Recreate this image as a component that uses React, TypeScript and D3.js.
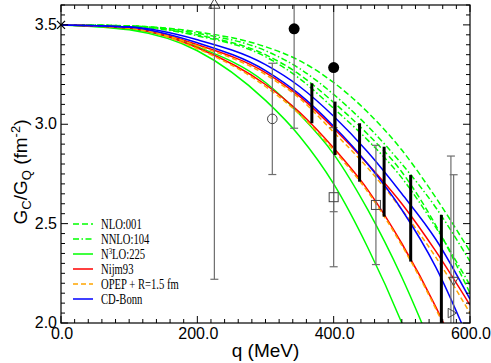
import React from 'react';
import * as d3 from 'd3';

// momentum grid (MeV) on which the theory curves were read
const qGrid = [0, 100, 200, 300, 350, 400, 450, 500, 550, 600];

// theory bands, two edges each
const nloA = [3.5, 3.495, 3.465, 3.39, 3.32, 3.21, 3.06, 2.87, 2.63, 2.36];
const nloB = [3.5, 3.494, 3.45, 3.35, 3.25, 3.11, 2.95, 2.76, 2.49, 2.15];
const nnloA = [3.5, 3.495, 3.458, 3.37, 3.28, 3.15, 2.99, 2.8, 2.58, 2.31];
const nnloB = [3.5, 3.493, 3.445, 3.34, 3.23, 3.08, 2.92, 2.73, 2.48, 2.19];
const n3loA = [3.5, 3.48, 3.39, 3.21, 3.05, 2.85, 2.57, 2.23, 1.83, 1.4];
const n3loB = [3.5, 3.475, 3.37, 3.12, 2.94, 2.7, 2.38, 2.0, 1.55, 1.1];
const nijmA = [3.5, 3.487, 3.4, 3.26, 3.14, 2.98, 2.8, 2.6, 2.36, 2.09];
const nijmB = [3.5, 3.484, 3.385, 3.2, 3.06, 2.88, 2.67, 2.4, 2.08, 1.7];
const opepA = [3.5, 3.486, 3.395, 3.25, 3.13, 2.96, 2.78, 2.57, 2.33, 2.05];
const opepB = [3.5, 3.483, 3.38, 3.19, 3.05, 2.87, 2.66, 2.39, 2.07, 1.69];
const bonnA = [3.5, 3.49, 3.425, 3.3, 3.19, 3.04, 2.86, 2.65, 2.42, 2.12];
const bonnB = [3.5, 3.488, 3.41, 3.27, 3.15, 2.99, 2.8, 2.57, 2.28, 1.9];

// experimental points
const crossQ = [0];
const crossV = [3.5];
const filledQ = [342, 400];
const filledV = [3.48, 3.285];
const filledErr = [0.5, 0.725];
const openCircQ = [310];
const openCircV = [3.027];
const openCircErr = [0.28];
const squareQ = [400, 462];
const squareV = [2.633, 2.594];
const squareErr = [0.35, 0.3];
const triUpQ = [225];
const triUpV = [3.6];
const triUpErr = [1.38];
const triDownQ = [576];
const triDownV = [2.216];
const triDownErr = [0.53];
const triRightQ = [572];
const triRightV = [2.05];
const triRightErr = [0.79];

// black range bars
const barQ = [368, 402, 438, 474, 513, 558];
const barLo = [3.005, 2.845, 2.711, 2.535, 2.309, 1.96];
const barHi = [3.206, 3.114, 3.005, 2.887, 2.745, 2.544];

const xMajor = [0, 200, 400, 600];
const yMajor = [2.0, 2.5, 3.0, 3.5];

const legendNames = ['NLO:001', 'NNLO:104', 'N3LO:225', 'Nijm93', 'OPEP + R=1.5 fm', 'CD-Bonn'];

const W = 491;
const H = 363;
const margin = { top: 5, right: 21, bottom: 40, left: 61 };

const GREEN = '#00ff00';
const styles = [
  { color: GREEN, dash: '6,3' },
  { color: GREEN, dash: '6,2.5,1.5,2.5' },
  { color: GREEN, dash: null },
  { color: '#ff0000', dash: null },
  { color: '#ffa500', dash: '5,3' },
  { color: '#0000ff', dash: null },
];
const bands = [
  [nloA, nloB],
  [nnloA, nnloB],
  [n3loA, n3loB],
  [nijmA, nijmB],
  [opepA, opepB],
  [bonnA, bonnB],
];
// draw order: solid greens first, blue last
const drawOrder = [2, 0, 1, 3, 4, 5];

export default function App() {
  const x = d3.scaleLinear().domain([0, 600]).range([margin.left, W - margin.right]);
  const y = d3.scaleLinear().domain([2.0, 3.6]).range([H - margin.bottom, margin.top]);
  const x0 = x.range()[0], x1 = x.range()[1];
  const yb = y.range()[0], yt = y.range()[1];

  const line = d3.line<number>()
    .x((_, i) => x(qGrid[i]))
    .y(d => y(d))
    .curve(d3.curveMonotoneX);

  const xMinor = d3.range(0, 601, 20);
  const yMinor = d3.range(2.0, 3.601, 0.05);

  const grey = '#6e6e6e';
  const cap = 4;

  const errBar = (q: number, v: number, e: number, key: string) => {
    const top = v + e, bot = v - e;
    return (
      <g key={key} stroke={grey} strokeWidth={1.2}>
        <line x1={x(q)} x2={x(q)} y1={y(Math.min(top, 3.6))} y2={y(Math.max(bot, 2.0))} />
        {top <= 3.6 && <line x1={x(q) - cap} x2={x(q) + cap} y1={y(top)} y2={y(top)} />}
        {bot >= 2.0 && <line x1={x(q) - cap} x2={x(q) + cap} y1={y(bot)} y2={y(bot)} />}
      </g>
    );
  };

  const tri = (cx: number, cy: number, r: number, rot: number) => {
    const pts = [0, 1, 2].map(k => {
      const a = (rot + k * 120 - 90) * Math.PI / 180;
      return `${cx + r * Math.cos(a)},${cy + r * Math.sin(a)}`;
    });
    return pts.join(' ');
  };

  const sans = '"Liberation Sans", Arial, Helvetica, sans-serif';
  const serif = '"Liberation Serif", "Times New Roman", serif';

  return (
    <svg width={W} height={H} style={{ position: 'absolute', left: 0, top: 0, background: '#fff' }}>
      <defs>
        <clipPath id="plot">
          <rect x={x0} y={yt} width={x1 - x0} height={yb - yt} />
        </clipPath>
      </defs>

      <g clipPath="url(#plot)">
        {drawOrder.map(k =>
          bands[k].map((vals, j) => (
            <path key={`c${k}-${j}`} d={line(vals) || ''} fill="none"
              stroke={styles[k].color} strokeWidth={1.5}
              strokeDasharray={styles[k].dash || undefined} />
          ))
        )}

        {triUpQ.map((q, i) => errBar(q, triUpV[i], triUpErr[i], `eu${i}`))}
        {filledQ.map((q, i) => errBar(q, filledV[i], filledErr[i], `ef${i}`))}
        {openCircQ.map((q, i) => errBar(q, openCircV[i], openCircErr[i], `eo${i}`))}
        {squareQ.map((q, i) => errBar(q, squareV[i], squareErr[i], `es${i}`))}
        {triDownQ.map((q, i) => errBar(q, triDownV[i], triDownErr[i], `ed${i}`))}
        {triRightQ.map((q, i) => errBar(q, triRightV[i], triRightErr[i], `er${i}`))}

        {barQ.map((q, i) => (
          <line key={`b${i}`} x1={x(q)} x2={x(q)} y1={y(barHi[i])} y2={y(barLo[i])}
            stroke="#000" strokeWidth={3} />
        ))}
      </g>

      {/* markers */}
      {filledQ.map((q, i) => (
        <circle key={`f${i}`} cx={x(q)} cy={y(filledV[i])} r={5.5} fill="#000" />
      ))}
      {openCircQ.map((q, i) => (
        <circle key={`o${i}`} cx={x(q)} cy={y(openCircV[i])} r={4.8} fill="none" stroke="#444" strokeWidth={1} />
      ))}
      {squareQ.map((q, i) => (
        <rect key={`s${i}`} x={x(q) - 4.5} y={y(squareV[i]) - 4.5} width={9} height={9}
          fill="none" stroke="#444" strokeWidth={1} />
      ))}
      {triUpQ.map((q, i) => (
        <polygon key={`tu${i}`} points={tri(x(q), y(triUpV[i]), 6.5, 0)} fill="none" stroke="#444" strokeWidth={1} />
      ))}
      {triDownQ.map((q, i) => (
        <polygon key={`td${i}`} points={tri(x(q), y(triDownV[i]), 5.5, 180)} fill="none" stroke="#444" strokeWidth={1} />
      ))}
      {triRightQ.map((q, i) => (
        <polygon key={`tr${i}`} points={tri(x(q), y(triRightV[i]), 5.5, 90)} fill="none" stroke="#444" strokeWidth={1} />
      ))}
      {crossQ.map((q, i) => (
        <g key={`x${i}`} stroke="#000" strokeWidth={1.3}>
          <line x1={x(q) - 4} x2={x(q) + 4} y1={y(crossV[i]) - 4} y2={y(crossV[i]) + 4} />
          <line x1={x(q) - 4} x2={x(q) + 4} y1={y(crossV[i]) + 4} y2={y(crossV[i]) - 4} />
        </g>
      ))}

      {/* frame and inward ticks on all four sides */}
      <rect x={x0} y={yt} width={x1 - x0} height={yb - yt} fill="none" stroke="#000" strokeWidth={1.2} />
      <g stroke="#000" strokeWidth={1}>
        {xMinor.map(t => {
          const len = xMajor.includes(t) ? 7 : 4;
          return (
            <g key={`xt${t}`}>
              <line x1={x(t)} x2={x(t)} y1={yb} y2={yb - len} />
              <line x1={x(t)} x2={x(t)} y1={yt} y2={yt + len} />
            </g>
          );
        })}
        {yMinor.map(t => {
          const major = yMajor.some(m => Math.abs(m - t) < 1e-6);
          const len = major ? 7 : 4;
          return (
            <g key={`yt${t.toFixed(2)}`}>
              <line x1={x0} x2={x0 + len} y1={y(t)} y2={y(t)} />
              <line x1={x1} x2={x1 - len} y1={y(t)} y2={y(t)} />
            </g>
          );
        })}
      </g>

      {/* tick labels */}
      <g fontFamily={sans} fontSize={16} fill="#000">
        {xMajor.map(t => (
          <text key={`xl${t}`} x={x(t) + 1} y={yb + 16} textAnchor="middle">{d3.format('.1f')(t)}</text>
        ))}
        {yMajor.map(t => (
          <text key={`yl${t}`} x={x0 - 4} y={y(t) + 5} textAnchor="end">{d3.format('.1f')(t)}</text>
        ))}
      </g>

      {/* axis titles */}
      <text x={(x0 + x1) / 2} y={H - 6} textAnchor="middle" fontFamily={sans} fontSize={19}>q (MeV)</text>
      <text transform={`translate(27,${(yt + yb) / 2 + 8}) rotate(-90)`} textAnchor="middle"
        fontFamily={sans} fontSize={19}>
        G<tspan dy={4} fontSize={13}>C</tspan>
        <tspan dy={-4}>/G</tspan>
        <tspan dy={4} fontSize={13}>Q</tspan>
        <tspan dy={-4}> (fm</tspan>
        <tspan dy={-7} fontSize={13}>-2</tspan>
        <tspan dy={7}>)</tspan>
      </text>

      {/* legend */}
      <g fontFamily={serif} fontSize={14}>
        {legendNames.map((name, i) => {
          const ly = 224 + i * 15;
          return (
            <g key={`lg${i}`}>
              <line x1={73} x2={93} y1={ly} y2={ly} stroke={styles[i].color} strokeWidth={1.5}
                strokeDasharray={styles[i].dash || undefined} />
              <text transform={`translate(101,${ly + 5}) scale(0.76,1)`}>
                {name.startsWith('N3') ? (
                  <>N<tspan dy={-5} fontSize={9}>3</tspan><tspan dy={5}>{name.slice(2)}</tspan></>
                ) : name}
              </text>
            </g>
          );
        })}
      </g>
    </svg>
  );
}
